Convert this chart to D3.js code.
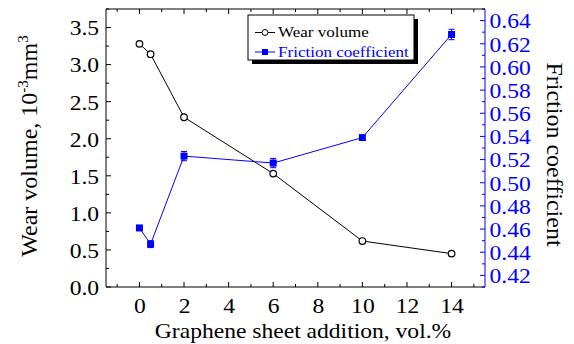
<!DOCTYPE html>
<html>
<head>
<meta charset="utf-8">
<script src="https://cdn.jsdelivr.net/npm/d3@7"></script>
<style>
  body { margin: 0; background: #fff; }
  svg { display: block; }
</style>
</head>
<body>
<svg id="chart"></svg>
<script>
// graphene content, vol.%
const additions = [0, 0.5, 2, 6, 10, 14];
// wear volume, 10^-3 mm^3
const wearVolume = [3.28, 3.14, 2.29, 1.53, 0.62, 0.45];
// friction coefficient with error
const friction = [0.461, 0.447, 0.523, 0.517, 0.539, 0.628];
const frictionErr = [0.002, 0.003, 0.004, 0.004, 0.002, 0.0045];

const xTicks = [0, 2, 4, 6, 8, 10, 12, 14];
const leftTicks = [0, 0.5, 1, 1.5, 2, 2.5, 3, 3.5];
const rightTicks = [0.42, 0.44, 0.46, 0.48, 0.5, 0.52, 0.54, 0.56, 0.58, 0.6, 0.62, 0.64];

const width = 574, height = 344;
const margin = { top: 9, right: 89, bottom: 57, left: 106 };
const blue = '#0000ff';
const serif = "'Liberation Serif', 'Times New Roman', Times, 'DejaVu Serif', serif";
const stretch = 'scale(1.15,1)';

const svg = d3.select('#chart')
    .attr('width', width)
    .attr('height', height)
    .style('font-family', serif);

const x = d3.scaleLinear().domain([-1.5, 15.5]).range([margin.left, width - margin.right]);
const yL = d3.scaleLinear().domain([0, 3.75]).range([height - margin.bottom, margin.top]);
const yR = d3.scaleLinear().domain([0.41, 0.65]).range([height - margin.bottom, margin.top]);

const x0 = margin.left, x1 = width - margin.right;
const y0 = height - margin.bottom, y1 = margin.top;

// minor ticks
const xMinor = d3.range(-1, 16, 1);
const leftMinor = d3.range(0, 3.76, 0.25);
const rightMinor = d3.range(0.41, 0.6501, 0.01);

const fmt1 = d3.format('.1f');
const fmt2 = d3.format('.2f');

// bottom axis
const xAxis = svg.append('g')
    .attr('transform', `translate(0,${y0})`)
    .call(d3.axisBottom(x).tickValues(xTicks).tickSize(0).tickPadding(11).tickFormat(d3.format('d')));
xAxis.select('.domain').remove();
xAxis.selectAll('text').style('font-size', '20.5px').style('font-family', serif)
    .attr('fill', '#000').attr('transform', stretch);

// left axis
const lAxis = svg.append('g')
    .attr('transform', `translate(${x0},0)`)
    .call(d3.axisLeft(yL).tickValues(leftTicks).tickSize(0).tickPadding(6).tickFormat(fmt1));
lAxis.select('.domain').remove();
lAxis.selectAll('text').style('font-size', '20.5px').style('font-family', serif)
    .attr('fill', '#000').attr('dy', '0.36em').attr('transform', stretch);

// right axis
const rAxis = svg.append('g')
    .attr('transform', `translate(${x1},0)`)
    .call(d3.axisRight(yR).tickValues(rightTicks).tickSize(0).tickPadding(4).tickFormat(fmt2));
rAxis.select('.domain').remove();
rAxis.selectAll('text').style('font-size', '20.5px').style('font-family', serif)
    .attr('fill', blue).attr('dy', '0.36em').attr('transform', stretch);

// inward ticks
const ticks = svg.append('g').attr('stroke-width', 1);
xMinor.forEach(v => {
    const len = (v % 2 === 0) ? 5 : 3;
    ticks.append('line').attr('x1', x(v)).attr('x2', x(v)).attr('y1', y0).attr('y2', y0 - len).attr('stroke', '#000');
    ticks.append('line').attr('x1', x(v)).attr('x2', x(v)).attr('y1', y1).attr('y2', y1 + len).attr('stroke', '#000');
});
leftMinor.forEach((v, i) => {
    const len = (i % 2 === 0) ? 5 : 3;
    ticks.append('line').attr('x1', x0).attr('x2', x0 + len).attr('y1', yL(v)).attr('y2', yL(v)).attr('stroke', '#000');
});
rightMinor.forEach((v, i) => {
    const len = (i % 2 === 1) ? 5 : 3;
    ticks.append('line').attr('x1', x1).attr('x2', x1 - len).attr('y1', yR(v)).attr('y2', yR(v)).attr('stroke', blue);
});

// frame
svg.append('line').attr('x1', x0).attr('x2', x1).attr('y1', y0).attr('y2', y0).attr('stroke', '#000');
svg.append('line').attr('x1', x0).attr('x2', x1).attr('y1', y1).attr('y2', y1).attr('stroke', '#000');
svg.append('line').attr('x1', x0).attr('x2', x0).attr('y1', y1).attr('y2', y0).attr('stroke', '#000');
svg.append('line').attr('x1', x1).attr('x2', x1).attr('y1', y1).attr('y2', y0).attr('stroke', blue);

// wear volume series
const wearData = additions.map((a, i) => ({ a, v: wearVolume[i] }));
svg.append('path')
    .datum(wearData)
    .attr('fill', 'none')
    .attr('stroke', '#000')
    .attr('stroke-width', 1)
    .attr('d', d3.line().x(d => x(d.a)).y(d => yL(d.v)));

// friction series
const fricData = additions.map((a, i) => ({ a, v: friction[i], e: frictionErr[i] }));
svg.append('path')
    .datum(fricData)
    .attr('fill', 'none')
    .attr('stroke', blue)
    .attr('stroke-width', 1)
    .attr('d', d3.line().x(d => x(d.a)).y(d => yR(d.v)));

const errG = svg.append('g').attr('stroke', blue).attr('stroke-width', 1);
fricData.forEach(d => {
    const cx = x(d.a);
    errG.append('line').attr('x1', cx).attr('x2', cx).attr('y1', yR(d.v - d.e)).attr('y2', yR(d.v + d.e));
    errG.append('line').attr('x1', cx - 3).attr('x2', cx + 3).attr('y1', yR(d.v - d.e)).attr('y2', yR(d.v - d.e));
    errG.append('line').attr('x1', cx - 3).attr('x2', cx + 3).attr('y1', yR(d.v + d.e)).attr('y2', yR(d.v + d.e));
});

svg.append('g')
    .selectAll('rect')
    .data(fricData)
    .enter()
    .append('rect')
        .attr('x', d => x(d.a) - 3.5)
        .attr('y', d => yR(d.v) - 3.5)
        .attr('width', 7)
        .attr('height', 7)
        .attr('fill', blue);

svg.append('g')
    .selectAll('circle')
    .data(wearData)
    .enter()
    .append('circle')
        .attr('cx', d => x(d.a))
        .attr('cy', d => yL(d.v))
        .attr('r', 3.3)
        .attr('fill', '#fff')
        .attr('stroke', '#000')
        .attr('stroke-width', 1.2);

// axis titles
svg.append('text')
    .attr('transform', `translate(303,338) ${stretch}`)
    .attr('text-anchor', 'middle')
    .style('font-size', '20.5px')
    .text('Graphene sheet addition, vol.%');

const lt = svg.append('text')
    .attr('transform', 'translate(37,146) rotate(-90)')
    .attr('text-anchor', 'middle')
    .style('font-size', '24px');
lt.append('tspan').text('Wear volume, 10');
lt.append('tspan').attr('dy', -9).style('font-size', '15px').text('-3');
lt.append('tspan').attr('dy', 9).text('mm');
lt.append('tspan').attr('dy', -9).style('font-size', '15px').text('3');

svg.append('text')
    .attr('transform', 'translate(547,154.5) rotate(90)')
    .attr('text-anchor', 'middle')
    .style('font-size', '24px')
    .text('Friction coefficient');

// legend
const lg = svg.append('g').attr('transform', 'translate(248,15)');
lg.append('rect').attr('x', 4).attr('y', 4).attr('width', 166).attr('height', 45).attr('fill', '#000');
lg.append('rect').attr('x', 0).attr('y', 0).attr('width', 166).attr('height', 45).attr('fill', '#fff').attr('stroke', '#000').attr('stroke-width', 1);
const legendItems = [
    { name: 'Wear volume', color: '#000', shape: 'circle' },
    { name: 'Friction coefficient', color: blue, shape: 'square' }
];
legendItems.forEach((it, i) => {
    const yy = 17.5 + i * 19.5;
    lg.append('line').attr('x1', 7).attr('x2', 27).attr('y1', yy).attr('y2', yy).attr('stroke', it.color);
    if (it.shape === 'circle') {
        lg.append('circle').attr('cx', 17).attr('cy', yy).attr('r', 3).attr('fill', '#fff').attr('stroke', it.color);
    } else {
        lg.append('rect').attr('x', 14).attr('y', yy - 3).attr('width', 6).attr('height', 6).attr('fill', it.color);
    }
    lg.append('text')
        .attr('transform', `translate(30,${yy + 2 + 2.5}) scale(1.1,1)`)
        .style('font-size', '15.5px')
        .attr('fill', it.color)
        .text(it.name);
});
</script>
</body>
</html>
